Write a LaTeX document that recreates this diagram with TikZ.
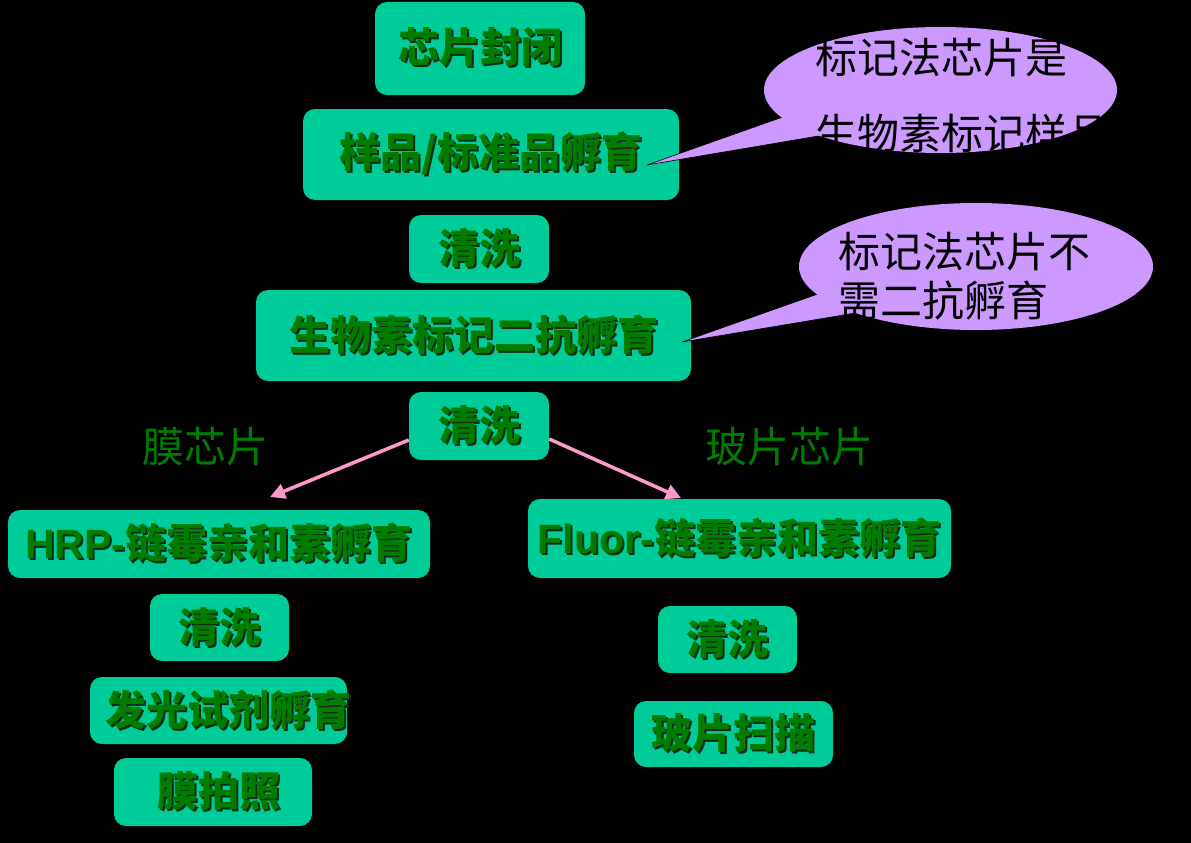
\documentclass[tikz,border=0pt]{standalone}
\usepackage{fontspec}
\setmainfont{Noto Sans CJK SC}
\newfontfamily\lat{Liberation Sans}
\usetikzlibrary{arrows.meta,shapes.geometric}
\definecolor{boxc}{RGB}{0,204,153}
\definecolor{txtc}{RGB}{0,125,0}
\definecolor{shdc}{RGB}{20,45,20}
\definecolor{callc}{RGB}{204,153,255}
\definecolor{pinkc}{RGB}{255,153,204}
\definecolor{labc}{RGB}{0,122,0}
\newcommand\shtxt[1]{\makebox[0pt]{\rlap{\kern2pt\raisebox{-2pt}{\color{shdc}#1}}#1}}
\begin{document}
\begin{tikzpicture}[x=1pt,y=-1pt,
  stepbox/.style={fill=boxc, rounded corners=12pt, inner sep=0pt, text=txtc,
    font=\fontsize{41}{41}\selectfont\bfseries},
  lab/.style={text=labc, font=\fontsize{42}{42}\selectfont, inner sep=0pt},
  ctext/.style={text=black, font=\fontsize{42}{42}\selectfont, inner sep=0pt, anchor=west},
  bubble/.style={fill=callc, ellipse, inner sep=0pt},
  tailc/.style={fill=callc, draw=black, line width=0.6pt},
  parrow/.style={draw=pinkc, line width=3.5pt, -{Triangle[length=15pt,width=15pt]}}]
\fill[black] (0,0) rectangle (1191,843);
\useasboundingbox (0,0) rectangle (1191,843);

% main column
\node[stepbox, minimum width=210pt, minimum height=93pt] (seal) at (480,48.5) {\shtxt{芯片封闭}};
\node[stepbox, minimum width=376pt, minimum height=91pt] (inc) at (491,154.5) {\shtxt{样品/标准品孵育}};
\node[stepbox, minimum width=140pt, minimum height=68pt] (w1) at (479,249) {\shtxt{清洗}};
\node[stepbox, minimum width=435pt, minimum height=91pt] (sec) at (473.5,335.5) {\shtxt{生物素标记二抗孵育}};
\node[stepbox, minimum width=140pt, minimum height=68pt] (w2) at (479,426) {\shtxt{清洗}};

% left branch
\node[lab] (lmem) at (205,447) {膜芯片};
\node[stepbox, minimum width=422pt, minimum height=68pt] (hrp) at (219,544) {\shtxt{{\lat HRP-}链霉亲和素孵育}};
\node[stepbox, minimum width=139pt, minimum height=67pt] (wl) at (219.5,627.5) {\shtxt{清洗}};
\node[stepbox, minimum width=257pt, minimum height=67pt] (lum) at (218.5,710.5) {\makebox[0pt]{\hspace*{20pt}\shtxt{发光试剂孵育}}};
\node[stepbox, minimum width=198pt, minimum height=68pt] (photo) at (213,792) {\makebox[0pt]{\hspace*{12pt}\shtxt{膜拍照}}};

% right branch
\node[lab] (lglass) at (789.5,447) {玻片芯片};
\node[stepbox, minimum width=423pt, minimum height=79pt] (fl) at (739.5,538.5) {\shtxt{{\lat Fluor-}链霉亲和素孵育}};
\node[stepbox, minimum width=139pt, minimum height=67pt] (wr) at (727.5,639.5) {\shtxt{清洗}};
\node[stepbox, minimum width=199pt, minimum height=66pt] (scan) at (733.5,734) {\shtxt{玻片扫描}};

% arrows
\coordinate (la) at (270,497);
\coordinate (ra) at (681,498);
\draw[parrow] ([yshift=-14pt]w2.west) -- (la);
\draw[parrow] ([yshift=-13pt]w2.east) -- (ra);

% callout 1
\coordinate (t1) at (647,165);
\filldraw[tailc] (790,114.5) -- (t1) -- (830,134) -- cycle;
\node[bubble, minimum width=353pt, minimum height=126pt] (b1) at (940.5,90) {};
\node[ctext] (b1a) at (815,58) {标记法芯片是};
\node[ctext] (b1b) at (815,133) {生物素标记样品};

% callout 2
\coordinate (t2) at (682,342);
\filldraw[tailc] (830,289.7) -- (t2) -- (860,312.2) -- cycle;
\node[bubble, minimum width=354pt, minimum height=127pt] (b2) at (976,266.5) {};
\node[ctext] (b2a) at (838,252) {标记法芯片不};
\node[ctext] (b2b) at (838,300) {需二抗孵育};
\end{tikzpicture}
\end{document}
